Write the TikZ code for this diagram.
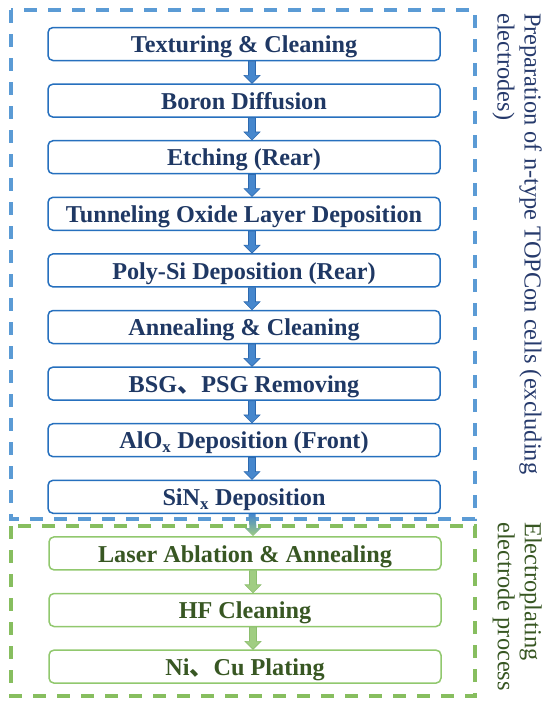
\documentclass[tikz,border=0pt]{standalone}
\usepackage{fontspec}
\setmainfont{Liberation Serif}
\newfontfamily\cjkfont{Noto Sans CJK SC}
\usetikzlibrary{calc}
\definecolor{navy}{RGB}{31,56,100}
\definecolor{bborder}{RGB}{38,112,190}
\definecolor{bdash}{RGB}{91,155,213}
\definecolor{bfill}{RGB}{70,135,205}
\definecolor{bedge}{RGB}{45,105,175}
\definecolor{gborder}{RGB}{145,200,110}
\definecolor{gdash}{RGB}{135,190,95}
\definecolor{gfill}{RGB}{160,205,130}
\definecolor{gedge}{RGB}{140,190,110}
\definecolor{gtext}{RGB}{56,87,35}
\definecolor{sblue}{RGB}{38,58,108}
\newcommand\blockarrow[3]{%
  \path[#3] ([xshift=4.5pt]#1.south) -- ([xshift=11.5pt]#1.south)
    -- ([xshift=11.5pt,yshift=8pt]#2.north) -- ([xshift=16pt,yshift=8pt]#2.north)
    -- ([xshift=8pt]#2.north) -- ([yshift=8pt]#2.north)
    -- ([xshift=4.5pt,yshift=8pt]#2.north) -- cycle;}
\begin{document}
\begin{tikzpicture}[x=1pt,y=-1pt,
  bstep/.style={draw=bborder, line width=1.5pt, rounded corners=5pt,
    minimum width=392pt, minimum height=33pt, inner sep=0pt, fill=white,
    font=\fontsize{24.2}{28}\selectfont\bfseries, text=navy,
    text height=20pt, text depth=2.6pt},
  gstep/.style={bstep, draw=gborder, text=gtext},
  bdashed/.style={draw=bdash, line width=3.3pt, dash pattern=on 13pt off 11pt},
  gdashed/.style={draw=gdash, line width=3.3pt, dash pattern=on 13pt off 11pt},
  barrow/.style={fill=bfill, draw=bedge, line width=0.6pt},
  garrow/.style={fill=gfill, draw=gedge, line width=0.6pt},
  mixarrow/.style={top color=bfill, bottom color=gfill, draw=none},
  sidetext/.style={font=\fontsize{24.4}{27}\selectfont, align=left, inner sep=0pt,
    anchor=north west, rotate=-90},
]
\useasboundingbox (0,0) rectangle (554,705);
\fill[white] (0,0) rectangle (554,705);
% group frames
\draw[bdashed] (11,10) rectangle (475,519);
\draw[gdashed] (11,526) rectangle (475,696);
% steps
\node[bstep] (s1) at (244,44) {Texturing \& Cleaning};
\node[bstep] (s2) at (244,100.6) {Boron Diffusion};
\node[bstep] (s3) at (244,157.2) {Etching (Rear)};
\node[bstep] (s4) at (244,213.8) {Tunneling Oxide Layer Deposition};
\node[bstep] (s5) at (244,270.4) {Poly-Si Deposition (Rear)};
\node[bstep] (s6) at (244,327) {Annealing \& Cleaning};
\node[bstep] (s7) at (244,383.6) {BSG{\cjkfont 、}PSG Removing};
\node[bstep] (s8) at (244,440.2) {AlO\textsubscript{x} Deposition (Front)};
\node[bstep] (s9) at (244,496.8) {SiN\textsubscript{x} Deposition};
\node[gstep] (s10) at (245,553.4) {Laser Ablation \& Annealing};
\node[gstep] (s11) at (245,610) {HF Cleaning};
\node[gstep] (s12) at (245,666.6) {Ni{\cjkfont 、}Cu Plating};
% arrows
\blockarrow{s1}{s2}{barrow}
\blockarrow{s2}{s3}{barrow}
\blockarrow{s3}{s4}{barrow}
\blockarrow{s4}{s5}{barrow}
\blockarrow{s5}{s6}{barrow}
\blockarrow{s6}{s7}{barrow}
\blockarrow{s7}{s8}{barrow}
\blockarrow{s8}{s9}{barrow}
\blockarrow{s9}{s10}{mixarrow}
\blockarrow{s10}{s11}{garrow}
\blockarrow{s11}{s12}{garrow}
% side labels
\node[sidetext, text=sblue] (l1) at (542,13)
  {Preparation of n-type TOPCon cells (excluding\\electrodes)};
\node[sidetext, text=gtext] (l2) at (542,522)
  {Electroplating\\electrode process};
\end{tikzpicture}
\end{document}
